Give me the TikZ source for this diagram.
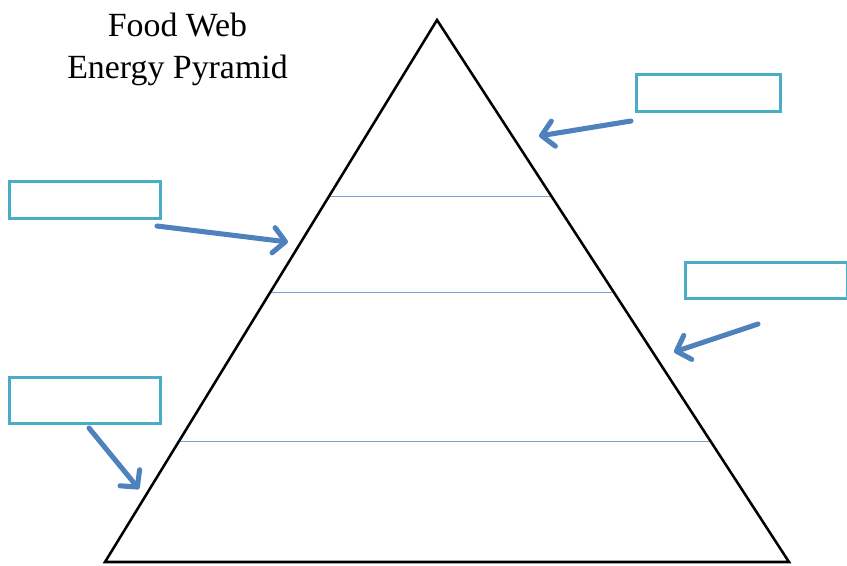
\documentclass[tikz,border=0pt]{standalone}
\usepackage{fontspec}
\setmainfont{Liberation Serif}
\usetikzlibrary{arrows.meta}
\definecolor{boxcol}{HTML}{4BACC6}
\definecolor{arrcol}{HTML}{4F81BD}
\definecolor{levcol}{HTML}{7FA2D2}
\tikzset{
  lblbox/.style={draw=boxcol, line width=2pt, fill=white, inner sep=0pt, anchor=north west},
  bluearrow/.style={draw=arrcol, line width=3.8pt, line cap=round, line join=round,
     -{Straight Barb[length=9pt, width=19pt, line width=3.8pt, round]}},
  levline/.style={draw=levcol, line width=0.7pt},
  title/.style={font=\fontsize{25.4pt}{30pt}\selectfont, anchor=base, inner sep=0pt}
}
\begin{document}
\begin{tikzpicture}[x=0.75pt, y=-0.75pt]
\useasboundingbox (0,0) rectangle (847,565);
% title
\node[title] (t1) at (177.5,36) {Food Web};
\node[title] (t2) at (177.5,78) {Energy Pyramid};
% pyramid
\coordinate (apex) at (437,20);
\coordinate (bl) at (105,562);
\coordinate (br) at (789,562);
\draw[levline] (329,196) -- (551,196);
\draw[levline] (270.4,292) -- (613.6,292);
\draw[levline] (179,441) -- (710,441);
\draw[line width=1.9pt, line join=miter] (apex) -- (br) -- (bl) -- cycle;
% boxes
\node[lblbox, minimum width=144*0.75pt, minimum height=37*0.75pt] (b1) at (635,73) {};
\node[lblbox, minimum width=151*0.75pt, minimum height=37*0.75pt] (b2) at (8,180) {};
\node[lblbox, minimum width=162*0.75pt, minimum height=36*0.75pt] (b3) at (684,261) {};
\node[lblbox, minimum width=151*0.75pt, minimum height=46*0.75pt] (b4) at (8,376) {};
% arrows
\coordinate (s1) at (631,121); \coordinate (e1) at (539,136);
\coordinate (s2) at (157,226); \coordinate (e2) at (288,242);
\coordinate (s3) at (758,324); \coordinate (e3) at (674,352);
\coordinate (s4) at (89,428);  \coordinate (e4) at (139,489);
\draw[bluearrow] (s1) -- (e1);
\draw[bluearrow] (s2) -- (e2);
\draw[bluearrow] (s3) -- (e3);
\draw[bluearrow] (s4) -- (e4);
\end{tikzpicture}
\end{document}
